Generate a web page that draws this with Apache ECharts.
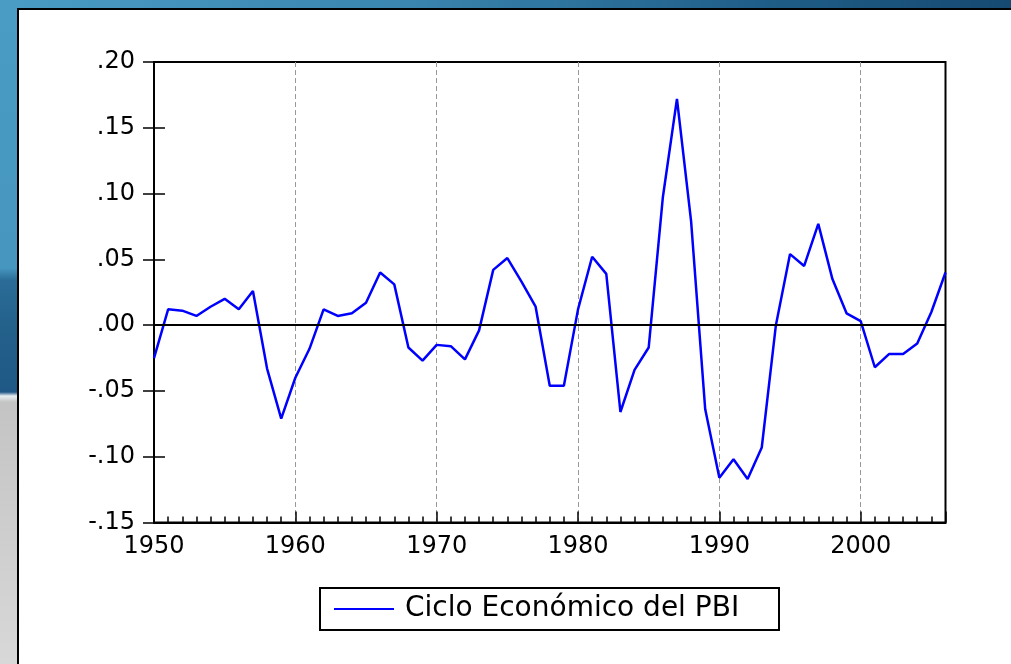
<!DOCTYPE html>
<html>
<head>
<meta charset="utf-8">
<script src="https://cdn.jsdelivr.net/npm/echarts@6/dist/echarts.min.js"></script>
<style>
html,body{margin:0;padding:0;width:1011px;height:664px;overflow:hidden;}
body{background:linear-gradient(to right,#4a9cc4 0%,#3a86b0 40%,#1f5e88 75%,#164a72 100%);position:relative;}
#strip{position:absolute;left:0;top:0;width:20px;height:664px;
background:linear-gradient(to bottom,#4a9cc4 0px,#4696bf 268px,#2a6d98 280px,#23608a 330px,#1f5886 392px,#e8eef2 396px,#c4c4c4 402px,#cfcfcf 550px,#d8d8d8 664px);}
#panel{position:absolute;left:17px;top:8px;width:1010px;height:670px;background:#fff;border-left:2px solid #000;border-top:2px solid #000;box-sizing:border-box;}
#chart{position:absolute;left:0;top:0;width:1011px;height:664px;}
</style>
</head>
<body>
<div id="strip"></div>
<div id="panel"></div>
<div id="chart"></div>
<script>
var years = [];
for (var y = 1950; y <= 2006; y++) years.push(y);
var seriesName = 'Ciclo Económico del PBI';
var values = [
 -0.025, 0.012, 0.011, 0.007, 0.014, 0.020, 0.012, 0.026, -0.033, -0.071,
 -0.040, -0.018, 0.012, 0.007, 0.009, 0.017, 0.040, 0.031, -0.017, -0.027,
 -0.015, -0.016, -0.026, -0.004, 0.042, 0.051, 0.033, 0.014, -0.046, -0.046,
 0.012, 0.052, 0.039, -0.066, -0.034, -0.017, 0.097, 0.172, 0.079, -0.064,
 -0.116, -0.102, -0.117, -0.093, 0.000, 0.054, 0.045, 0.077, 0.035, 0.009,
 0.003, -0.032, -0.022, -0.022, -0.014, 0.010, 0.040
];
var yTicks = [-0.15, -0.10, -0.05, 0.00, 0.05, 0.10, 0.15, 0.20];
var xTicks = [1950, 1960, 1970, 1980, 1990, 2000];

var data = years.map(function (yr, i) { return [yr, values[i]]; });
var font = 'DejaVu Sans';
function fmtY(v) {
  var s = v.toFixed(2);
  return s.replace('0.', '.');
}
var chart = echarts.init(document.getElementById('chart'), null, {renderer: 'canvas'});
var yBase = {
  type: 'value', min: yTicks[0], max: yTicks[yTicks.length - 1], interval: 0.05,
  position: 'left', splitLine: {show: false}
};
chart.setOption({
  animation: false,
  backgroundColor: 'transparent',
  grid: {left: 154, right: 65.5, top: 62, bottom: 141.5, show: true, borderColor: '#000', borderWidth: 2, backgroundColor: 'transparent'},
  legend: {
    left: 320, top: 588, orient: 'horizontal',
    data: [seriesName],
    icon: 'rect', itemWidth: 60, itemHeight: 2,
    padding: [5, 12, 5, 14],
    borderColor: '#000', borderWidth: 2, borderRadius: 0,
    textStyle: {fontFamily: font, fontSize: 28, color: '#000', lineHeight: 32, width: 362, padding: [0, 0, 0, 6]}
  },
  xAxis: {
    type: 'value', min: xTicks[0], max: 2006, interval: 10,
    axisLine: {onZero: false, lineStyle: {color: '#000', width: 2}},
    axisTick: {inside: true, length: 11, lineStyle: {color: '#000', width: 1.5}},
    minorTick: {show: true, splitNumber: 10, length: 6, lineStyle: {color: '#000', width: 1.5}},
    axisLabel: {
      fontFamily: font, fontSize: 24, color: '#000', margin: 12,
      formatter: function (v) { return xTicks.indexOf(v) >= 0 ? String(v) : ''; },
      showMaxLabel: false
    },
    splitLine: {show: true, showMinLine: false, showMaxLine: false, lineStyle: {color: '#999', width: 1, type: [5, 3]}}
  },
  yAxis: [
    Object.assign({}, yBase, {
      axisLine: {show: true, onZero: false, lineStyle: {color: '#000', width: 2}},
      axisTick: {show: true, inside: false, length: 11, lineStyle: {color: '#000', width: 1.5}},
      axisLabel: {fontFamily: font, fontSize: 24, color: '#000', margin: 19, formatter: fmtY}
    }),
    Object.assign({}, yBase, {
      axisLine: {show: false, onZero: false},
      axisTick: {show: true, inside: true, length: 11, lineStyle: {color: '#000', width: 1.5}},
      axisLabel: {show: false}
    })
  ],
  series: [{
    name: seriesName, type: 'line', data: data, yAxisIndex: 0,
    symbol: 'none', lineStyle: {color: '#0000ff', width: 2.5}, itemStyle: {color: '#0000ff'},
    markLine: {
      silent: true, symbol: ['none', 'none'], label: {show: false},
      lineStyle: {color: '#000', width: 2, type: 'solid'},
      data: [{yAxis: 0}]
    },
    z: 3
  }]
});
</script>
</body>
</html>
